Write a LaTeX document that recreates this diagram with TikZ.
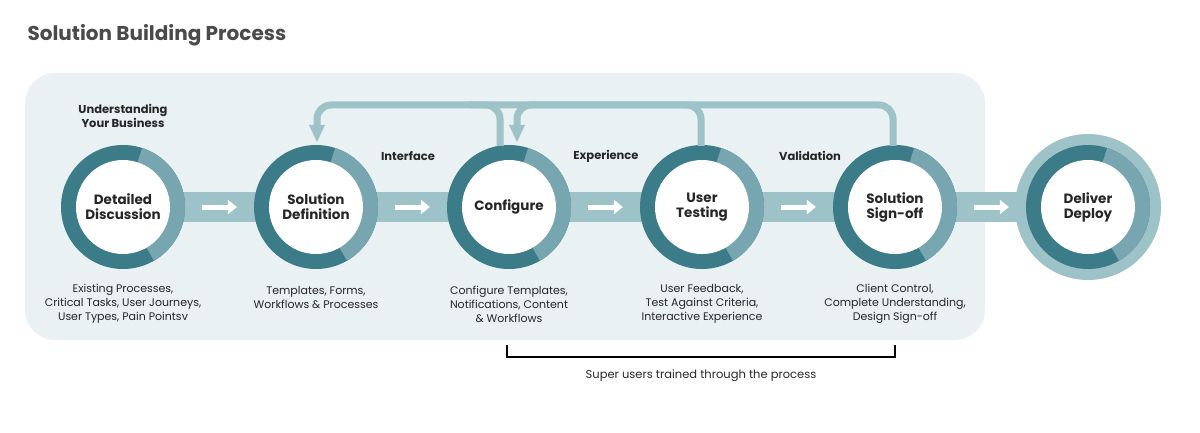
\documentclass[tikz,border=0pt]{standalone}
\usepackage{fontspec}
\setmainfont{Poppins}
\usetikzlibrary{calc,arrows.meta}
\definecolor{tealdark}{HTML}{3B7C88}
\definecolor{teallight}{HTML}{77A6B0}
\definecolor{tealband}{HTML}{9DC2C8}
\definecolor{panel}{HTML}{E9F1F3}
\definecolor{titlegray}{HTML}{4A4A4A}
\begin{document}
\begin{tikzpicture}[x=1pt,y=-1pt]
          \tikzstyle{stage}=[circle,fill=white,minimum size=94pt,inner sep=0pt,align=center,font=\fontsize{13.5}{15}\selectfont\bfseries,text=black!85]
          \tikzstyle{note}=[align=center,font=\fontsize{11}{14}\selectfont,text=black!85]
          \tikzstyle{phase}=[align=center,font=\fontsize{11.5}{14}\selectfont\bfseries,text=black!85]
          \tikzstyle{flow}=[draw=white,line width=5pt,-{Triangle[length=9pt,width=14pt]}]
          \tikzstyle{loop}=[draw=tealband,line width=7pt,rounded corners=14pt]
          \useasboundingbox (0,0) rectangle (1200,433);
          \node[anchor=west,font=\fontsize{20}{24}\selectfont\bfseries,text=titlegray] (title) at (24,35) {Solution Building Process};
          \fill[panel,rounded corners=30pt] (25,73) rectangle (985,340);
          % band behind the stages
          \fill[tealband] (123,192) rectangle (1088,222);
          \fill[tealband] (1088,207) circle (73);
          \foreach \n/\x in {s1/123,s2/316,s3/509,s4/702,s5/895,s6/1088}{
             \fill[tealdark] (\x,207) circle (62);
             \fill[teallight] ($(\x,207)+(-72:62)$) arc[start angle=-72,end angle=60,radius=62]
                -- ($(\x,207)+(60:47)$) arc[start angle=60,end angle=-72,radius=47] -- cycle;
          }
          \node[stage] (s1) at (123,207) {Detailed\\Discussion};
          \node[stage] (s2) at (316,207) {Solution\\Definition};
          \node[stage] (s3) at (509,207) {Configure};
          \node[stage] (s4) at (702,207) {User\\Testing};
          \node[stage] (s5) at (895,207) {Solution\\Sign-off};
          \node[stage] (s6) at (1088,207) {Deliver\\Deploy};
          % white arrows
          \foreach \a/\b in {s1/s2,s2/s3,s3/s4,s4/s5,s5/s6}
             \path[flow] ($(\a)!0.41!(\b)$) -- ($(\a)!0.59!(\b)$);
          % feedback loops
          \coordinate (f5) at (893,146);
          \coordinate (f4) at (701,146);
          \coordinate (f3) at (500,146);
          \coordinate (t2) at (317,142);
          \coordinate (t3) at (517,142);
          \path[loop] (f5) -- (893,105) -- (317,105) -- (317,126);
          \path[loop] (f4) -- (701,105) -- (517,105) -- (517,126);
          \path[loop] (f3) -- (500,105) -- (470,105);
          \fill[tealband] (t2) -- ++(-8,-17) -- ++(16,0) -- cycle;
          \fill[tealband] (t3) -- ++(-8,-17) -- ++(16,0) -- cycle;
          % labels
          \node[phase] (p1) at (123,116) {Understanding\\Your Business};
          \node[phase] (p2) at (408,156) {Interface};
          \node[phase] (p3) at (606,156) {Experience};
          \node[phase] (p4) at (810,156) {Validation};
          \node[note] (n1) at (123,304) {Existing Processes,\\Critical Tasks, User Journeys,\\User Types, Pain Pointsv};
          \node[note] (n2) at (316,297) {Templates, Forms,\\Workflows \& Processes};
          \node[note] (n3) at (509,304) {Configure Templates,\\Notifications, Content\\\& Workflows};
          \node[note] (n4) at (702,304) {User Feedback,\\Test Against Criteria,\\Interactive Experience};
          \node[note] (n5) at (895,304) {Client Control,\\Complete Understanding,\\Design Sign-off};
          % bracket
          \coordinate (b1) at (507,345);
          \coordinate (b2) at (895,345);
          \draw[line width=2pt] (b1) -- ++(0,12) -| (b2);
          \node[note,font=\fontsize{11.5}{14}\selectfont] (sup) at (701,376) {Super users trained through the process};
        \end{tikzpicture}
\end{document}
